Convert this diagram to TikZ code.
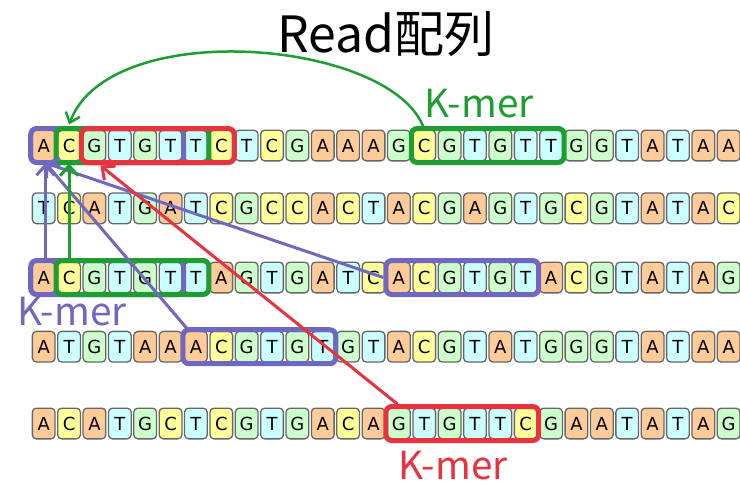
\documentclass[tikz,border=0pt]{standalone}
\usepackage{fontspec}
\newfontfamily\cjkfont{Noto Sans CJK JP}
\newfontfamily\basefont{DejaVu Sans}
\usetikzlibrary{arrows.meta,fit,calc}
\definecolor{cA}{HTML}{FFCC99}
\definecolor{cC}{HTML}{FFFF99}
\definecolor{cG}{HTML}{CCFFCC}
\definecolor{cT}{HTML}{CCFFFF}
\definecolor{cellline}{HTML}{666666}
\definecolor{kpurple}{HTML}{7068C0}
\definecolor{kgreen}{HTML}{1E9E32}
\definecolor{kred}{HTML}{E8323F}
\tikzset{
  cell/.style={draw=cellline, line width=1.3pt, rounded corners=4pt,
    minimum width=22.7pt, minimum height=30.7pt, inner sep=0pt,
    font=\basefont\fontsize{18}{18}\selectfont},
  bA/.style={fill=cA}, bC/.style={fill=cC}, bG/.style={fill=cG}, bT/.style={fill=cT},
  kbox/.style={draw=#1, line width=5pt, rounded corners=6pt, inner sep=1pt},
  klabel/.style={text=#1, font=\cjkfont\fontsize{38.7}{40}\selectfont, anchor=base west, inner sep=0pt},
  arr/.style={draw=#1, line width=3pt, -{Straight Barb[length=10pt,width=18pt]}},
  arcarr/.style={draw=kgreen, line width=2.5pt, -{Straight Barb[length=9pt,width=15pt]}},
}
\def\seqA{A,C,G,T,G,T,T,C,T,C,G,A,A,A,G,C,G,T,G,T,T,G,G,T,A,T,A,A}
\def\seqB{T,C,A,T,G,A,T,C,G,C,C,A,C,T,A,C,G,A,G,T,G,C,G,T,A,T,A,C}
\def\seqC{A,C,G,T,G,T,T,A,G,T,G,A,T,C,A,C,G,T,G,T,A,C,G,T,A,T,A,G}
\def\seqD{A,T,G,T,A,A,A,C,G,T,G,T,G,T,A,C,G,T,A,T,G,G,G,T,A,T,A,A}
\def\seqE{A,C,A,T,G,C,T,C,G,T,G,A,C,A,G,T,G,T,T,C,G,A,A,T,A,T,A,G}
\begin{document}
\begin{tikzpicture}[x=1pt,y=-1pt]
\fill[white] (0,0) rectangle (740,483);
\useasboundingbox (0,0) rectangle (740,483);
% cells
\foreach \ltr [count=\i from 0] in \seqA {\node[cell,b\ltr] (r1c\i) at ({43.7+25.37*\i},145.5) {\ltr};}
\foreach \ltr [count=\i from 0] in \seqB {\node[cell,b\ltr] (r2c\i) at ({43.7+25.37*\i},208.3) {\ltr};}
\foreach \ltr [count=\i from 0] in \seqC {\node[cell,b\ltr] (r3c\i) at ({43.7+25.37*\i},277.5) {\ltr};}
\foreach \ltr [count=\i from 0] in \seqD {\node[cell,b\ltr] (r4c\i) at ({43.7+25.37*\i},346.7) {\ltr};}
\foreach \ltr [count=\i from 0] in \seqE {\node[cell,b\ltr] (r5c\i) at ({43.7+25.37*\i},423.5) {\ltr};}
% k-mer boxes
\node[kbox=kpurple, fit=(r1c0)(r1c5)] (pb1) {};
\node[kbox=kgreen, fit=(r1c1)(r1c6)] (gb1) {};
\node[kbox=kred, fit=(r1c2)(r1c7)] (rb1) {};
\node[kbox=kgreen, fit=(r1c15)(r1c20)] (gb2) {};
\node[kbox=kpurple, fit=(r3c0)(r3c5)] (pb3) {};
\node[kbox=kgreen, fit=(r3c1)(r3c6)] (gb3) {};
\node[kbox=kpurple, fit=(r3c14)(r3c19)] (pb3b) {};
\node[kbox=kpurple, fit=(r4c6)(r4c11)] (pb4) {};
\node[kbox=kred, fit=(r5c14)(r5c19)] (rb5) {};
% labels
\node[anchor=base west, inner sep=0pt, font=\cjkfont\fontsize{50}{52}\selectfont] (title) at (277,52) {Read配列};
\node[klabel=kgreen] (kg) at (424,117) {K-mer};
\node[klabel=kpurple] (kp) at (17,325) {K-mer};
\node[klabel=kred] (kr) at (398,479) {K-mer};
% arrows
\coordinate (ptip) at ($(r1c0.south)+(1.8,1.5)$);
\draw[arr=kpurple] (pb3.north -| ptip) -- (ptip);
\draw[arr=kpurple] (pb3b.west) -- (ptip);
\draw[arr=kpurple] ([xshift=8pt,yshift=-3pt]pb4.north west) -- (ptip);
\draw[arr=kgreen] (gb3.north -| r1c1) -- ([yshift=-2pt]r1c1.south);
\draw[arr=kred] ([xshift=14pt]rb5.north west) -- ([xshift=6pt,yshift=-4pt]r1c2.south);
\draw[arcarr] (r1c15.north) .. controls (395,40) and (110,15) .. ([yshift=5pt]r1c1.north);
\end{tikzpicture}
\end{document}
